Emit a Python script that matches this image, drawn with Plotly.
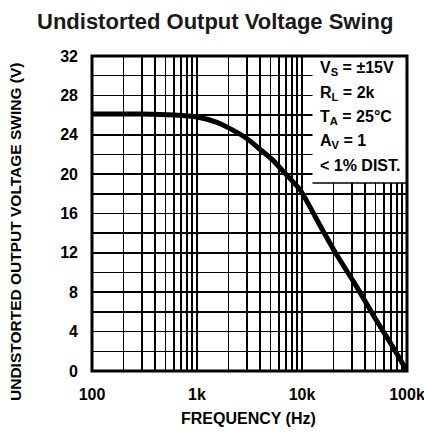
import plotly.graph_objects as go

# Data
freq_hz = [100, 300, 600, 1000, 1500, 2000, 3000, 4000, 5300, 7000, 9600, 15000, 21400, 33000, 50000, 70000, 100000]
swing_v = [26.1, 26.1, 26.0, 25.8, 25.3, 24.7, 23.6, 22.5, 21.4, 20.0, 18.4, 14.7, 11.8, 8.6, 5.3, 2.8, 0.0]

x_grid = [m * 10 ** e for e in (2, 3, 4) for m in range(1, 10)] + [100000]
x_labels = {100: "100", 1000: "1k", 10000: "10k", 100000: "100k"}
x_ticktext = [x_labels.get(v, "") for v in x_grid]

y_grid = list(range(0, 33, 2))
y_ticktext = [str(v) if v % 4 == 0 else "" for v in y_grid]

legend_lines = ["V<sub>S</sub> = ±15V", "R<sub>L</sub> = 2k", "T<sub>A</sub> = 25°C", "A<sub>V</sub> = 1", "&lt; 1% DIST."]

FONT = "Liberation Sans, Arial, sans-serif"

fig = go.Figure()
fig.add_trace(go.Scatter(x=freq_hz, y=swing_v, mode="lines",
                         line=dict(color="black", width=5, shape="spline", smoothing=0.6),
                         hoverinfo="skip", showlegend=False))

fig.update_xaxes(type="log", range=[2, 5], tickvals=x_grid, ticktext=x_ticktext,
                 showgrid=True, gridcolor="black", gridwidth=1.6,
                 showline=False, automargin=False,
                 ticks="", ticklabelstandoff=12, ticklabeloverflow="allow",
                 tickfont=dict(family=FONT, size=16, color="black", weight="bold"),
                 zeroline=False, fixedrange=True)
fig.update_yaxes(range=[0, 32], tickvals=y_grid, ticktext=y_ticktext,
                 showgrid=True, gridcolor="black", gridwidth=1.6,
                 showline=False, automargin=False,
                 ticks="", ticklabelstandoff=13, ticklabeloverflow="allow",
                 tickfont=dict(family=FONT, size=16, color="black", weight="bold"),
                 zeroline=False, fixedrange=True)

# white box for the conditions, then the frame on top
fig.add_shape(type="rect", xref="paper", yref="y", x0=0.70, x1=1.0, y0=19.1, y1=32,
              fillcolor="white", line=dict(width=0), layer="above")
fig.add_shape(type="line", xref="paper", yref="y", x0=0.70, x1=1.0, y0=19.1, y1=19.1,
              line=dict(color="black", width=1.6), layer="above")
fig.add_shape(type="rect", xref="paper", yref="paper", x0=0, x1=1, y0=0, y1=1,
              fillcolor="rgba(0,0,0,0)", line=dict(color="black", width=3), layer="above")

L, T, W, H = 92, 56, 315, 315
def px(x):
    return (x - L) / W
def py(y):
    return (T + H - y) / H

row_y = [68, 93, 117, 141, 165]
for txt, yy in zip(legend_lines, row_y):
    fig.add_annotation(text=txt, xref="paper", yref="paper", x=px(318), y=py(yy),
                       xanchor="left", yanchor="middle", showarrow=False,
                       font=dict(family=FONT, size=16, color="black", weight="bold"))

fig.add_annotation(text="Undistorted Output Voltage Swing", xref="paper", yref="paper",
                   x=px(215), y=py(22), xanchor="center", yanchor="middle", showarrow=False,
                   font=dict(family=FONT, size=22, color="#1a1a1a", weight="bold"))
fig.add_annotation(text="FREQUENCY (Hz)", xref="paper", yref="paper",
                   x=px(248), y=py(418), xanchor="center", yanchor="middle", showarrow=False,
                   font=dict(family=FONT, size=16, color="black", weight="bold"))
fig.add_annotation(text="UNDISTORTED OUTPUT VOLTAGE SWING (V)", xref="paper", yref="paper",
                   x=px(15), y=py(232), xanchor="center", yanchor="middle", showarrow=False,
                   textangle=-90,
                   font=dict(family=FONT, size=15.5, color="black", weight="bold"))

fig.update_layout(width=424, height=440, margin=dict(l=L, r=424 - L - W, t=T, b=440 - T - H),
                  paper_bgcolor="white", plot_bgcolor="white")

fig.write_html("out.html", config={"displayModeBar": False, "staticPlot": True},
               post_script="document.body.style.margin='0';document.body.style.padding='0';")
